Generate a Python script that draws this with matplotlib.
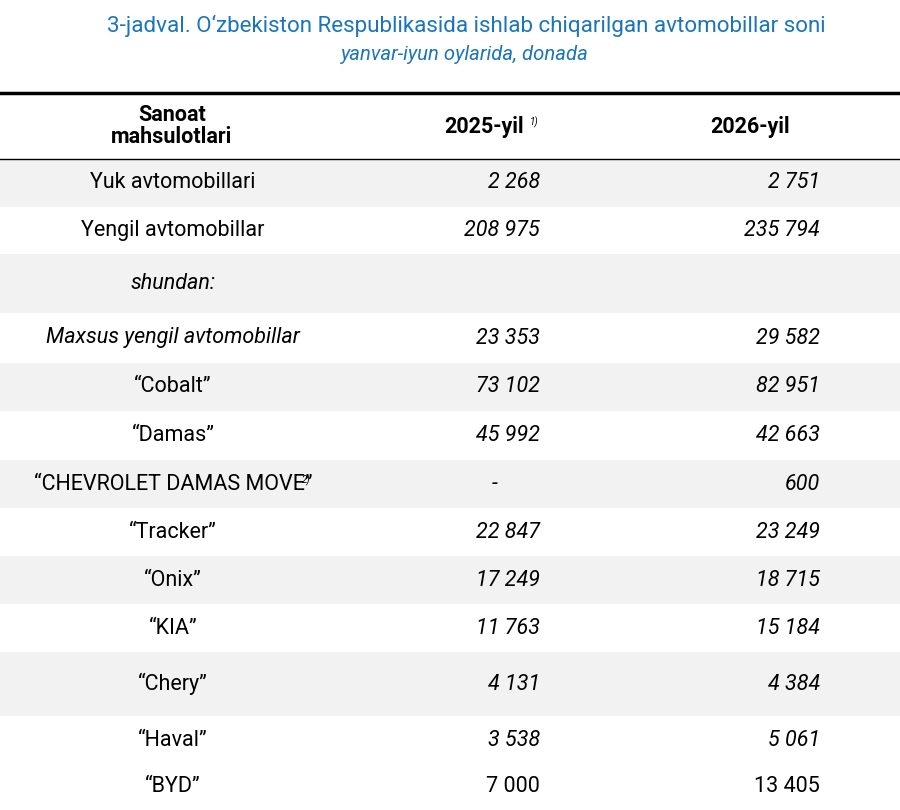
import matplotlib
matplotlib.use("Agg")
import matplotlib.pyplot as plt
from matplotlib.patches import Rectangle

plt.rcParams['font.family'] = ['Roboto', 'DejaVu Sans']

title = "3-jadval. O‘zbekiston Respublikasida ishlab chiqarilgan avtomobillar soni"
subtitle = "yanvar-iyun oylarida, donada"
col_headers = ["Sanoat\nmahsulotlari", "2025-yil", "2026-yil"]
products = ["Yuk avtomobillari", "Yengil avtomobillar", "shundan:",
            "Maxsus yengil avtomobillar", "“Cobalt”", "“Damas”",
            "“CHEVROLET DAMAS MOVE”", "“Tracker”", "“Onix”", "“KIA”",
            "“Chery”", "“Haval”", "“BYD”"]
v2025 = ["2 268", "208 975", "", "23 353", "73 102", "45 992", "-",
         "22 847", "17 249", "11 763", "4 131", "3 538", "7 000"]
v2026 = ["2 751", "235 794", "", "29 582", "82 951", "42 663", "600",
         "23 249", "18 715", "15 184", "4 384", "5 061", "13 405"]
label_italic = [False, False, True, True] + [False] * 9
value_italic = [True] * 12 + [False]

# layout (pixels)
edges = [159, 207, 254, 313, 363, 411, 460, 508, 556, 604, 652, 716, 764, 810]
shaded = [True, False, True, False, True, False, True, False, True, False, True, False, False]

fig = plt.figure(figsize=(9, 8.1), dpi=100)
ax = fig.add_axes([0, 0, 1, 1])
ax.set_xlim(0, 900)
ax.set_ylim(810, 0)
ax.axis('off')

blue = '#1b75bc'
fs = 15.5
ax.text(466, 26, title, ha='center', va='center', fontsize=16.1, color=blue)
ax.text(465, 55, subtitle, ha='center', va='center', fontsize=14.6, color=blue, style='italic')

ax.plot([0, 900], [93, 93], color='black', lw=2.5)
ax.plot([0, 900], [159, 159], color='black', lw=1)
ax.text(172, 126, col_headers[0], ha='center', va='center', fontsize=fs, fontweight='bold', linespacing=1.05)
ax.text(484, 127, col_headers[1], ha='center', va='center', fontsize=fs, fontweight='bold')
ax.text(530, 122, "1)", ha='left', va='center', fontsize=7, style='italic')
ax.text(750, 127, col_headers[2], ha='center', va='center', fontsize=fs, fontweight='bold')

for i, name in enumerate(products):
    y0, y1 = edges[i], edges[i + 1]
    yc = (y0 + y1) / 2
    if shaded[i]:
        ax.add_patch(Rectangle((0, y0), 900, y1 - y0, color='#f2f2f2', lw=0))
    ax.text(173, yc, name, ha='center', va='center', fontsize=fs,
            style='italic' if label_italic[i] else 'normal')
    if name == "“CHEVROLET DAMAS MOVE”":
        ax.text(302, yc - 4, "2)", ha='left', va='center', fontsize=7, style='italic')
    st = 'italic' if value_italic[i] else 'normal'
    if v2025[i] == "-":
        ax.text(495, yc, "-", ha='center', va='center', fontsize=fs, style=st)
    else:
        ax.text(540, yc, v2025[i], ha='right', va='center', fontsize=fs, style=st)
    ax.text(820, yc, v2026[i], ha='right', va='center', fontsize=fs, style=st)

fig.savefig("out.png", dpi=100)
